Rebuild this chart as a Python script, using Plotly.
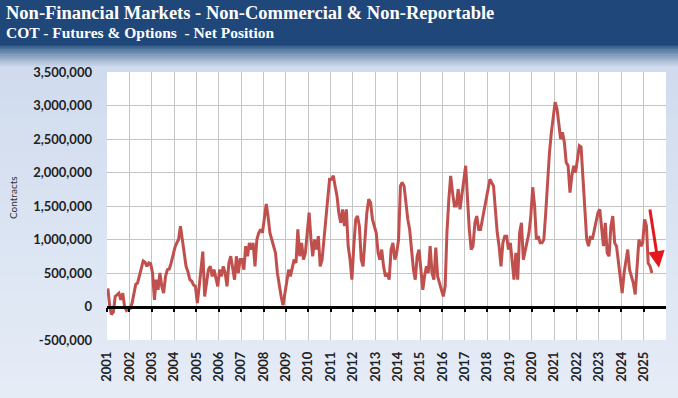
import pandas as pd
import plotly.graph_objects as go

# ---------------- data (monthly net position, thousands of contracts) ----------------
y2001 = [270, 0, -120, -80, 150, 180, 200, 100, 200, 0, -60, -40]
y2002 = [-30, 50, 200, 330, 350, 470, 560, 680, 660, 600, 650, 640]
y2003 = [500, 100, 400, 250, 500, 300, 200, 450, 550, 560, 650, 780]
y2004 = [880, 950, 1000, 1200, 1000, 850, 600, 520, 400, 380, 320, 300]
y2005 = [50, 300, 600, 820, 150, 400, 550, 600, 450, 550, 400, 300]
y2006 = [550, 450, 600, 500, 300, 650, 750, 600, 400, 750, 500, 700]
y2007 = [700, 550, 900, 750, 950, 850, 950, 600, 1000, 1100, 1150, 1100]
y2008 = [1300, 1530, 1350, 1100, 1000, 900, 800, 500, 300, 150, 20, 200]
y2009 = [400, 550, 450, 600, 700, 650, 1150, 750, 950, 700, 800, 1100]
y2010 = [1400, 1000, 750, 1000, 850, 1050, 600, 700, 1000, 1300, 1700, 1900]
y2011 = [1900, 1950, 1800, 1650, 1400, 1250, 1450, 1200, 1450, 900, 700, 400]
y2012 = [900, 1300, 1350, 1200, 700, 600, 1000, 1400, 1600, 1550, 1300, 1200]
y2013 = [1100, 800, 700, 850, 600, 450, 500, 400, 850, 950, 700, 800]
y2014 = [1000, 1800, 1850, 1800, 1550, 1300, 1150, 800, 550, 400, 750, 850]
y2015 = [550, 250, 450, 600, 500, 900, 500, 400, 880, 450, 350, 250]
y2016 = [150, 300, 1100, 1600, 1950, 1700, 1500, 1500, 1750, 1450, 1700, 1900]
y2017 = [2100, 1600, 1150, 850, 900, 1250, 1350, 1150, 1150, 1300, 1450, 1650]
y2018 = [1800, 1900, 1850, 1800, 1450, 1100, 900, 600, 950, 1050, 1050, 850]
y2019 = [950, 600, 400, 800, 400, 1100, 1250, 700, 850, 1000, 1100, 1350]
y2020 = [1780, 1500, 1000, 1050, 950, 950, 1000, 1400, 1900, 2300, 2600, 2800]
y2021 = [3050, 2950, 2700, 2500, 2600, 2450, 2150, 2100, 1700, 1950, 2100, 2000]
y2022 = [2200, 2400, 2380, 1900, 1500, 1000, 900, 1050, 1000, 1150, 1300, 1400]
y2023 = [1450, 1200, 900, 1250, 800, 750, 1200, 1350, 950, 900, 650, 450]
y2024 = [200, 500, 700, 850, 550, 450, 350, 180, 550, 1000, 900, 950]
y2025 = [1300, 1200, 650, 600, 500]

yearly = [y2001, y2002, y2003, y2004, y2005, y2006, y2007, y2008, y2009, y2010,
          y2011, y2012, y2013, y2014, y2015, y2016, y2017, y2018, y2019, y2020,
          y2021, y2022, y2023, y2024, y2025]
net_position = [v * 1000 for yr in yearly for v in yr]
dates = pd.date_range("2001-01-01", periods=len(net_position), freq="MS") + pd.Timedelta(days=14)

y_tickvals = [-500000, 0, 500000, 1000000, 1500000, 2000000, 2500000, 3000000, 3500000]
y_ticktext = ["-500,000", "0", "500,000", "1,000,000", "1,500,000", "2,000,000",
              "2,500,000", "3,000,000", "3,500,000"]

title_text = "Non-Financial Markets - Non-Commercial & Non-Reportable"
subtitle_text = "COT - Futures & Options  - Net Position"
y_title = "Contracts"

# trend arrow (tail -> head)
arrow_tail = ("2025-04-08", 1470000)
arrow_head = ("2025-09-08", 580000)

# ---------------- layout geometry ----------------
W, H = 678, 398
ML, MR, MT, MB = 107, 12, 72, 58
PW, PH = W - ML - MR, H - MT - MB
x_range = ["2001-01-01", "2025-12-31"]
y_range = [-500000, 3500000]


def px2paper_x(px):
    return (px - ML) / PW


def px2paper_y(py):
    return (H - MB - py) / PH


def mix(c1, c2, t):
    a = [int(c1[i:i + 2], 16) for i in (1, 3, 5)]
    b = [int(c2[i:i + 2], 16) for i in (1, 3, 5)]
    return "#%02x%02x%02x" % tuple(round(a[k] + (b[k] - a[k]) * t) for k in range(3))


shapes = []
# light blue background gradient
n = 20
for i in range(n):
    y0 = 46 + (H - 46) * i / n
    y1 = 46 + (H - 46) * (i + 1) / n + 0.5
    shapes.append(dict(type="rect", xref="paper", yref="paper", layer="below",
                       x0=px2paper_x(0), x1=px2paper_x(W),
                       y0=px2paper_y(y1), y1=px2paper_y(y0),
                       fillcolor=mix("#cfdbee", "#e5ecf6", i / (n - 1)), line_width=0))
# transition gradient below banner
n2 = 14
for i in range(n2):
    y0 = 44 + 24 * i / n2
    y1 = 44 + 24 * (i + 1) / n2 + 0.5
    shapes.append(dict(type="rect", xref="paper", yref="paper", layer="below",
                       x0=px2paper_x(0), x1=px2paper_x(W),
                       y0=px2paper_y(y1), y1=px2paper_y(y0),
                       fillcolor=mix("#25507f", "#cfdbee", (i / (n2 - 1)) ** 0.8), line_width=0))
# dark banner
shapes.append(dict(type="rect", xref="paper", yref="paper", layer="below",
                   x0=px2paper_x(0), x1=px2paper_x(W),
                   y0=px2paper_y(45), y1=px2paper_y(0),
                   fillcolor="#1f477a", line_width=0))
# white plot area
shapes.append(dict(type="rect", xref="paper", yref="paper", layer="below",
                   x0=0, x1=1, y0=0, y1=1, fillcolor="white", line_width=0))

fig = go.Figure()
fig.add_trace(go.Scatter(x=dates, y=net_position, mode="lines",
                         line=dict(color="#c0504d", width=3), hoverinfo="skip",
                         showlegend=False))
# invisible trace to carry the zero-line axis
fig.add_trace(go.Scatter(x=dates, y=net_position, mode="lines", xaxis="x2",
                         line=dict(width=0), opacity=0, hoverinfo="skip",
                         showlegend=False))

tick_font = dict(family="Lato, 'Open Sans', sans-serif", size=13, color="#222222",
                 weight="bold")

fig.update_layout(
    width=W, height=H,
    margin=dict(l=ML, r=MR, t=MT, b=MB, pad=0, autoexpand=False),
    paper_bgcolor="#dbe5f1",
    plot_bgcolor="white",
    shapes=shapes,
    xaxis=dict(type="date", range=x_range, tick0="2001-01-01", dtick="M12",
               tickformat="%Y", tickangle=-90, showgrid=True, gridcolor="#c4c4c4",
               gridwidth=1, showline=False, zeroline=False, ticks="",
               ticklabelstandoff=8, tickfont=tick_font, automargin=False),
    xaxis2=dict(type="date", range=x_range, overlaying="x", matches="x",
                anchor="free", position=(0 - y_range[0]) / (y_range[1] - y_range[0]),
                tick0="2001-01-01", dtick="M12", showticklabels=False,
                showgrid=False, showline=True, linecolor="black", linewidth=2.5,
                ticks="outside", ticklen=4, tickwidth=2, tickcolor="black",
                automargin=False),
    yaxis=dict(range=y_range, tickvals=y_tickvals, ticktext=y_ticktext,
               showgrid=True, gridcolor="#c4c4c4", gridwidth=1, zeroline=False,
               showline=False, ticks="", ticklabelstandoff=14, tickfont=tick_font,
               automargin=False),
    annotations=[
        dict(xref="paper", yref="paper", x=px2paper_x(4), y=px2paper_y(1),
             xanchor="left", yanchor="top", showarrow=False, text=f"<b>{title_text}</b>",
             font=dict(family="'Liberation Serif', 'DejaVu Serif', serif", size=18.5, color="white")),
        dict(xref="paper", yref="paper", x=px2paper_x(4), y=px2paper_y(22),
             xanchor="left", yanchor="top", showarrow=False, text=f"<b>{subtitle_text}</b>",
             font=dict(family="'Liberation Serif', 'DejaVu Serif', serif", size=15.5, color="white")),
        dict(xref="paper", yref="paper", x=px2paper_x(13), y=px2paper_y(198),
             xanchor="center", yanchor="middle", showarrow=False, text=y_title, textangle=-90,
             font=dict(family="Lato, 'Open Sans', sans-serif", size=10, color="#333333")),
        dict(xref="x", yref="y", x=arrow_head[0], y=arrow_head[1],
             axref="x", ayref="y", ax=arrow_tail[0], ay=arrow_tail[1],
             showarrow=True, arrowhead=2, arrowsize=1.1, arrowwidth=3,
             arrowcolor="#e3181e", text=""),
    ],
)

fig.write_html("out.html", config={"displayModeBar": False},
               post_script="document.body.style.margin='0';")
